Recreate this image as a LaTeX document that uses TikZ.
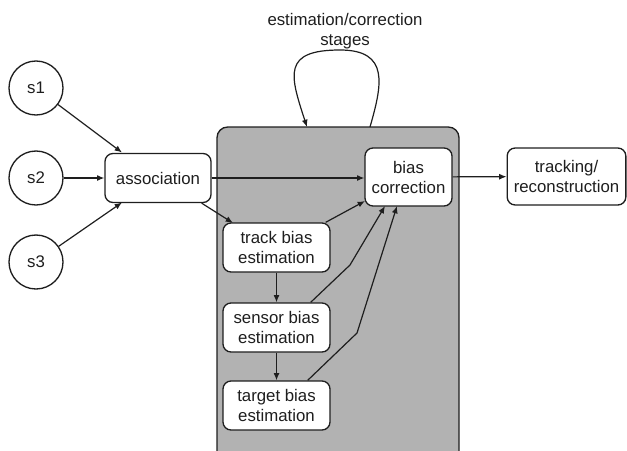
\documentclass[tikz,border=0pt]{standalone}
\usepackage{fontspec}
\setmainfont{Liberation Sans}
\usetikzlibrary{arrows.meta}
\definecolor{panel}{RGB}{178,178,178}
\definecolor{ink}{RGB}{30,30,30}
\begin{document}
\begin{tikzpicture}[x=0.75pt,y=-0.75pt,
  every node/.style={font=\fontsize{12.6}{15}\selectfont, text=ink},
  box/.style={draw=ink, line width=1pt, fill=white, rounded corners=6pt, align=center, inner sep=0pt},
  src/.style={draw=ink, line width=1pt, circle, minimum size=40.5pt, inner sep=0pt},
  arr/.style={draw=ink, line width=0.9pt, -{Latex[length=5.5pt,width=4.5pt]}}
]
\useasboundingbox (0,0) rectangle (627,450);
% panel
\fill[panel, rounded corners=8pt] (217,460) -- (217,127) -- (459,127) -- (459,460) -- cycle;
\draw[ink, line width=1pt, rounded corners=8pt] (217,460) -- (217,127) -- (459,127) -- (459,460);
\coordinate (loopA) at (370,127);
\coordinate (loopB) at (307,127);
\node[align=center] (lbl) at (345,31) {estimation/correction\\stages};
\draw[arr] (loopA) .. controls (382,85) and (390,50) .. (340,50) .. controls (282,50) and (290,75) .. (loopB);

% sources
\node[src] (s1) at (36,88) {s1};
\node[src] (s2) at (36,178) {s2};
\node[src] (s3) at (36,262) {s3};

% boxes
\node[box, minimum width=79.5pt, minimum height=36.75pt] (assoc) at (158,178) {association};
\node[box, minimum width=80.25pt, minimum height=36.75pt] (track) at (276.5,247.5) {track bias\\estimation};
\node[box, minimum width=80.25pt, minimum height=36.75pt] (sensor) at (276.5,327.5) {sensor bias\\estimation};
\node[box, minimum width=80.25pt, minimum height=36.75pt] (target) at (276.5,405.5) {target bias\\estimation};
\node[box, minimum width=65.25pt, minimum height=43.5pt] (corr) at (408.5,177) {bias\\correction};
\node[box, minimum width=89pt, minimum height=42.75pt] (track2) at (566.5,176.5) {tracking/\\reconstruction};

% arrows
\draw[arr] (s1) -- (122,152.5);
\draw[arr] (s2) -- (assoc);
\draw[arr] (s3) -- (122,202.5);
\draw[arr] (assoc) -- (assoc -| corr.west);
\draw[arr] (assoc.south east) ++(-10,0) -- (233,223);
\draw[arr] (track.north east) ++(-5,0) -- (365,201);
\draw[arr] (sensor.north east) ++(-20,0) -- (350,265) -- (385,206);
\draw[arr] (target.north east) ++(-23,0) -- (357,333) -- (397,206);
\draw[arr] (track) -- (sensor);
\draw[arr] (sensor) -- (target);
\draw[arr] (corr) -- (track2);
\end{tikzpicture}
\end{document}
